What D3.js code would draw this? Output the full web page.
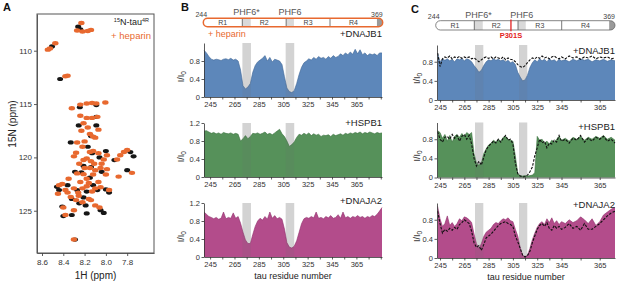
<!DOCTYPE html>
<html>
<head>
<meta charset="utf-8">
<script src="https://cdn.jsdelivr.net/npm/d3@7"></script>
<style>
  body { margin: 0; background: #fff; }
  svg { display: block; }
</style>
</head>
<body>
<svg id="fig" width="617" height="284"></svg>
<script>
// Three-panel figure: HSQC overlay (A), I/I0 profiles +heparin (B), P301S (C).

const FONT = '"Liberation Sans", Arial, Helvetica, sans-serif';
const ORANGE = '#e8692f';
const INK = '#222';
const AXIS = '#333';

// ---- A: peak positions [1H ppm, 15N ppm] ----
const H_TICKS = [8.6, 8.4, 8.2, 8.0, 7.8];
const N_TICKS = [110, 115, 120, 125];
const BLACK_PEAKS = [
  [8.26, 107.75], [8.24, 108.0], [8.506, 109.6], [8.43, 112.65],
  [8.245, 115.3], [8.09, 115.1], [8.09, 116.2], [8.255, 117.0], [8.09, 117.0],
  [8.14, 118.0], [8.33, 118.6], [8.13, 119.6], [8.0, 119.4], [7.77, 119.5],
  [7.74, 119.9], [7.92, 120.25], [8.21, 120.8], [8.04, 121.35], [7.8, 121.2],
  [8.29, 121.35], [8.23, 121.4], [8.46, 122.76], [8.44, 123.06], [8.27, 123.06],
  [8.18, 123.2], [8.08, 123.06], [8.0, 123.0], [7.97, 123.3], [8.32, 123.9],
  [8.21, 123.75], [8.41, 124.6], [8.19, 124.5], [8.05, 124.95], [8.4, 125.5],
  [8.32, 125.4], [8.18, 125.25], [8.02, 125.2], [8.29, 127.7],
  [8.15, 121.9], [8.36, 122.6], [8.12, 122.6], [8.25, 124.3], [8.17, 119.0],
  [8.06, 120.0], [8.14, 120.9]
];
const ORANGE_PEAKS = [
  [8.23, 107.4], [8.27, 108.1], [8.22, 108.2], [8.17, 108.15], [8.14, 108.05],
  [8.475, 109.3], [8.525, 109.8], [8.545, 109.9], [8.38, 112.4], [8.36, 112.35],
  [8.32, 115.4], [8.24, 115.05], [8.18, 114.95], [8.09, 114.95], [8.005, 114.85],
  [8.13, 114.9], [8.24, 116.1], [8.18, 116.3], [8.13, 116.3], [8.08, 116.2],
  [8.21, 116.8], [8.07, 117.4], [8.15, 117.8], [8.12, 118.05], [8.1, 118.15],
  [8.27, 118.6], [8.2, 118.5], [8.22, 119.0], [8.28, 119.57], [8.15, 119.5],
  [8.07, 119.6], [7.99, 119.8], [8.12, 119.4], [7.865, 119.8], [7.8, 119.3],
  [7.83, 119.5], [7.895, 120.2], [8.18, 120.1], [8.21, 120.25], [8.02, 120.2],
  [8.11, 120.6], [8.04, 120.6], [8.14, 120.35], [8.15, 121.0], [8.05, 121.0],
  [7.99, 121.1], [8.1, 121.2], [7.755, 121.45], [7.88, 121.8], [8.27, 121.5],
  [8.21, 121.57], [8.18, 122.0], [8.24, 122.3], [8.41, 122.5], [8.38, 123.06],
  [8.44, 122.6], [8.3, 122.9], [8.22, 122.9], [8.18, 122.7], [8.13, 123.2],
  [8.05, 122.8], [7.97, 123.06], [8.26, 123.3], [8.1, 122.9], [8.33, 123.7],
  [8.255, 123.6], [8.16, 123.9], [8.22, 124.2], [8.4, 124.7], [8.3, 124.95],
  [8.1, 124.5], [8.06, 124.7], [8.38, 125.4], [8.3, 127.7],
  [8.25, 120.6], [8.2, 121.0], [8.12, 121.6], [8.35, 122.0], [8.16, 122.4],
  [8.07, 122.3], [8.28, 124.0], [8.14, 124.0], [8.45, 123.4], [8.36, 123.3],
  [8.0, 121.6], [8.3, 119.9], [8.23, 117.5], [8.17, 117.2]
];

// ---- tau domain schematic ----
const REPEATS = ['R1', 'R2', 'R3', 'R4'];
const REPEAT_BOUNDS = [244, 275, 306, 337, 369];
const PHF_NAMES = ['PHF6*', 'PHF6'];
const PHF_BAR = [[275, 281], [306, 311.5]];
const CAP = [365.5, 369];
const MUTATION = 301;

// ---- B: +heparin, residues 240..386 step 2 ----
const B_RES = d3.range(240, 387, 2);
const B_SHADE = [[271.5, 278.5], [307, 314]];
const B_DNAJB1 = [1.04,0.98,0.9,0.84,0.82,0.84,0.83,0.81,0.84,0.85,
  0.83,0.86,0.82,0.84,0.8,0.6,0.25,0.18,0.22,0.3,
  0.55,0.7,0.78,0.82,0.86,0.92,0.8,0.88,0.78,0.84,
  0.82,0.8,0.72,0.45,0.2,0.12,0.1,0.14,0.3,0.5,
  0.66,0.76,0.8,0.85,0.82,0.88,0.84,0.9,0.86,0.88,
  0.84,0.9,0.86,0.92,0.88,0.9,0.96,0.92,0.98,0.94,
  1.0,0.95,1.06,0.96,1.05,0.94,0.98,0.92,0.96,0.94,
  0.96,0.92,0.98,0.98];
const B_HSPB1 = [1.02,1.03,1.0,0.97,0.99,0.96,0.98,0.95,0.99,0.97,
  0.96,0.98,0.95,0.97,0.95,0.8,0.85,0.92,0.85,0.9,
  0.97,0.96,0.98,0.95,0.97,1.0,0.95,0.97,0.94,0.98,
  1.02,1.06,0.96,0.9,0.8,0.68,0.72,0.78,0.88,0.95,
  0.93,0.97,0.94,0.98,0.92,0.96,0.93,0.95,0.9,0.93,
  0.92,0.94,0.9,0.95,0.92,0.94,0.96,0.93,0.97,0.95,
  0.98,0.96,0.99,0.97,1.0,0.96,0.99,0.97,1.0,0.98,
  0.96,0.99,0.97,0.98];
const B_DNAJA2 = [1.0,0.95,0.9,0.88,0.85,0.88,0.84,0.86,1.0,0.85,
  0.88,0.86,0.98,0.86,0.9,0.75,0.55,0.38,0.3,0.3,
  0.5,0.68,0.8,0.86,0.82,0.9,0.84,1.0,0.86,0.92,
  0.85,0.88,0.84,0.62,0.32,0.22,0.2,0.24,0.36,0.55,
  0.74,0.85,0.88,0.86,0.9,0.87,1.0,0.86,0.88,0.85,
  0.9,0.87,0.92,0.86,0.88,0.94,0.86,1.0,0.87,0.9,
  0.86,0.9,0.88,0.92,0.88,0.9,0.86,0.9,0.88,0.92,
  0.9,0.95,1.02,1.1];

// ---- C: P301S (area) vs dashed reference, residues 243..373 step 2 ----
const C_RES = d3.range(243, 374, 2);
const C_SHADE = [[273.8, 280.6], [310, 316.8]];
const C_DNAJB1 = [0.98,0.8,0.86,0.83,0.86,0.82,0.85,0.8,0.86,0.84,
  0.87,0.82,0.86,0.84,0.8,0.72,0.66,0.58,0.62,0.72,
  0.8,0.84,0.82,0.86,0.83,0.85,0.82,0.84,0.8,0.83,
  0.78,0.8,0.74,0.58,0.48,0.4,0.42,0.52,0.68,0.78,
  0.84,0.8,0.86,0.82,0.85,0.8,0.86,0.82,0.84,0.8,
  0.85,0.82,0.84,0.8,0.85,0.82,0.86,0.83,0.85,0.8,
  0.84,0.82,0.85,0.81,0.84,0.82];
const C_DNAJB1_REF = [0.98,0.7,0.86,0.9,0.88,0.92,0.86,0.9,0.88,0.91,
  0.87,0.9,0.88,0.9,0.86,0.88,0.84,0.8,0.84,0.88,
  0.9,0.87,0.9,0.86,0.9,0.88,0.86,0.9,0.84,0.88,
  0.85,0.84,0.8,0.74,0.7,0.68,0.72,0.78,0.84,0.88,
  0.86,0.9,0.87,0.92,0.88,0.9,0.86,0.9,0.92,0.88,
  0.86,0.9,0.86,0.92,0.88,0.9,0.85,0.9,0.88,0.92,
  0.86,0.9,0.88,0.9,0.86,0.88];
const C_HSPB1 = [0.98,0.94,0.82,0.9,0.76,0.88,0.74,0.86,0.9,0.84,
  0.92,0.86,0.94,0.9,0.94,0.5,0.3,0.26,0.3,0.5,
  0.6,0.68,0.72,0.78,0.74,0.8,0.76,0.84,0.86,0.8,
  0.78,0.76,0.45,0.08,0.04,0.03,0.04,0.03,0.04,0.05,
  0.1,0.86,0.78,0.8,0.72,0.76,0.7,0.78,0.74,0.8,
  0.86,0.78,0.82,0.76,0.84,0.8,0.86,0.78,0.84,0.8,
  0.86,0.82,0.88,0.8,0.84,0.78];
const C_HSPB1_REF = [0.96,0.8,0.74,0.84,0.86,0.8,0.9,0.82,0.88,0.76,
  0.86,0.9,0.8,0.88,0.7,0.4,0.24,0.34,0.26,0.42,
  0.58,0.66,0.7,0.76,0.72,0.8,0.74,0.82,0.88,0.78,
  0.8,0.7,0.3,0.08,0.03,0.01,0.02,0.05,0.12,0.22,
  0.45,0.62,0.8,0.72,0.76,0.62,0.72,0.7,0.78,0.74,
  0.88,0.76,0.8,0.72,0.82,0.78,0.88,0.74,0.82,0.76,
  0.84,0.8,0.86,0.76,0.8,0.72];
const C_DNAJA2 = [1.08,0.82,0.66,0.72,0.88,0.68,0.74,0.66,0.72,0.82,
  0.78,0.86,0.84,0.8,0.74,0.5,0.3,0.2,0.3,0.45,
  0.54,0.58,0.62,0.7,0.74,0.72,0.78,0.82,0.8,0.84,
  0.78,0.76,0.6,0.46,0.22,0.06,0.03,0.06,0.2,0.38,
  0.52,0.64,0.72,0.76,0.7,0.82,0.74,0.84,0.72,0.78,
  0.7,0.76,0.72,0.8,0.74,0.78,0.86,0.8,0.72,0.82,
  0.68,0.76,0.9,0.96,1.02,1.06];
const C_DNAJA2_REF = [0.98,0.72,0.52,0.6,0.56,0.62,0.58,0.64,0.6,0.7,
  0.74,0.8,0.76,0.72,0.56,0.32,0.22,0.26,0.16,0.28,
  0.42,0.46,0.5,0.56,0.62,0.68,0.72,0.74,0.76,0.72,
  0.7,0.66,0.46,0.34,0.2,0.06,0.02,0.05,0.14,0.32,
  0.46,0.6,0.68,0.72,0.66,0.74,0.62,0.58,0.68,0.62,
  0.66,0.6,0.64,0.72,0.62,0.66,0.58,0.72,0.6,0.6,
  0.66,0.72,0.8,0.88,0.94,0.98];

const RES_TICKS_B = d3.range(245, 386, 10);
const RES_TICKS_C = [245, 255, 265, 275, 285, 295, 305, 315, 325, 335, 345, 355, 365];
const RES_LABELS = [245, 265, 285, 305, 325, 345, 365];

const svg = d3.select('#fig').attr('font-family', FONT);

function styleAxis(g, size) {
  g.attr('font-family', FONT);
  g.selectAll('path, line').attr('stroke', AXIS).attr('stroke-width', 0.8);
  g.selectAll('text').attr('fill', AXIS).style('font-size', size);
}

// ================= A =================
const hx = d3.scaleLinear().domain([8.647, 7.548]).range([37, 154]);
const ny = d3.scaleLinear().domain([106.56, 128.96]).range([14, 253]);
const gA = svg.append('g');

gA.append('text').attr('x', 3).attr('y', 11).attr('font-weight', 'bold')
  .style('font-size', '11px').attr('fill', '#111').text('A');

gA.append('g').attr('transform', `translate(0,${ny.range()[1]})`)
  .call(d3.axisBottom(hx).tickValues(H_TICKS).tickFormat(d3.format('.1f')).tickSize(3).tickPadding(3).tickSizeOuter(0))
  .call(g => styleAxis(g, '8px'));
gA.append('g').attr('transform', `translate(${hx.range()[0]},0)`)
  .call(d3.axisLeft(ny).tickValues(N_TICKS).tickSize(3).tickPadding(2).tickSizeOuter(0))
  .call(g => styleAxis(g, '8px'));

gA.selectAll('ellipse.blk').data(BLACK_PEAKS).join('ellipse')
  .attr('cx', d => hx(d[0])).attr('cy', d => ny(d[1]))
  .attr('rx', 3).attr('ry', 2.1).attr('fill', '#161616');
gA.selectAll('ellipse.org').data(ORANGE_PEAKS).join('ellipse')
  .attr('cx', d => hx(d[0])).attr('cy', d => ny(d[1]))
  .attr('rx', 3.2).attr('ry', 2.2).attr('fill', ORANGE);

gA.append('rect')
  .attr('x', hx.range()[0]).attr('y', ny.range()[0])
  .attr('width', hx.range()[1] - hx.range()[0]).attr('height', ny.range()[1] - ny.range()[0])
  .attr('fill', 'none').attr('stroke', '#555').attr('stroke-width', 1);

const leg = gA.append('text').attr('x', 149).attr('y', 25).attr('text-anchor', 'end')
  .attr('fill', INK).style('font-size', '9px');
leg.append('tspan').style('font-size', '5.5px').attr('dy', -3).text('15');
leg.append('tspan').attr('dy', 3).text('N-tau');
leg.append('tspan').style('font-size', '5.5px').attr('dy', -3).text('4R');
gA.append('text').attr('x', 151).attr('y', 39).attr('text-anchor', 'end')
  .attr('fill', ORANGE).style('font-size', '9.5px').text('+ heparin');

gA.append('text').attr('x', d3.mean(hx.range())).attr('y', 279).attr('text-anchor', 'middle')
  .attr('fill', INK).style('font-size', '10px').text('1H (ppm)');
gA.append('text').attr('transform', `translate(16,124) rotate(-90)`).attr('text-anchor', 'middle')
  .attr('fill', INK).style('font-size', '10px').text('15N (ppm)');

// ================= domain bar =================
function domainBar(g, bx, top, h, outline, outlineW, labelY) {
  const x0 = bx(REPEAT_BOUNDS[0]);
  const x1 = bx(REPEAT_BOUNDS[REPEAT_BOUNDS.length - 1]);
  const id = 'clip' + Math.round(x0);
  g.append('clipPath').attr('id', id).append('rect')
    .attr('x', x0).attr('y', top).attr('width', x1 - x0).attr('height', h).attr('rx', h / 2);
  g.append('rect').attr('x', x0).attr('y', top).attr('width', x1 - x0).attr('height', h)
    .attr('rx', h / 2).attr('fill', '#fff');
  g.selectAll('rect.phf').data(PHF_BAR).join('rect')
    .attr('x', d => bx(d[0])).attr('width', d => bx(d[1]) - bx(d[0]))
    .attr('y', top).attr('height', h).attr('fill', '#d9d9d9');
  g.append('rect').attr('clip-path', `url(#${id})`)
    .attr('x', bx(CAP[0])).attr('width', bx(CAP[1]) - bx(CAP[0]))
    .attr('y', top).attr('height', h).attr('fill', '#9a9a9a');
  g.selectAll('line.rep').data(REPEAT_BOUNDS.slice(1, -1)).join('line')
    .attr('x1', d => bx(d)).attr('x2', d => bx(d)).attr('y1', top).attr('y2', top + h)
    .attr('stroke', '#555').attr('stroke-width', 0.8);
  g.append('rect').attr('x', x0).attr('y', top).attr('width', x1 - x0).attr('height', h)
    .attr('rx', h / 2).attr('fill', 'none').attr('stroke', outline).attr('stroke-width', outlineW);
  g.selectAll('text.rep').data(REPEATS).join('text')
    .attr('x', (d, i) => (bx(REPEAT_BOUNDS[i]) + bx(i === 3 ? CAP[0] : REPEAT_BOUNDS[i + 1])) / 2)
    .attr('y', top + h / 2 + 2.5).attr('text-anchor', 'middle')
    .attr('fill', '#444').style('font-size', '7px').text(d => d);
  g.selectAll('text.phf').data(PHF_NAMES).join('text')
    .attr('x', (d, i) => (bx(PHF_BAR[i][0]) + bx(PHF_BAR[i][1])) / 2)
    .attr('y', labelY).attr('text-anchor', 'middle')
    .attr('fill', '#555').style('font-size', '9px').text(d => d);
  g.append('text').attr('x', x0 - 2).attr('y', top - 1.5).attr('text-anchor', 'middle')
    .attr('fill', '#444').style('font-size', '7px').text(REPEAT_BOUNDS[0]);
  g.append('text').attr('x', x1).attr('y', top - 1.5).attr('text-anchor', 'end')
    .attr('fill', '#444').style('font-size', '7px').text(REPEAT_BOUNDS[REPEAT_BOUNDS.length - 1]);
}

// ================= profile panel =================
function profile(g, o) {
  const x = o.x;
  const xr = x.range();
  const y = d3.scaleLinear().domain([0, o.ymax]).range([o.y0, o.y0 - o.h]);
  const top = y(o.ymax), bot = y(0);
  const pts = o.res.map((r, i) => ({ r, v: o.vals[i] }));

  g.selectAll('rect.sb').data(o.shade).join('rect')
    .attr('x', d => x(d[0])).attr('width', d => x(d[1]) - x(d[0]))
    .attr('y', top).attr('height', bot - top).attr('fill', '#e3e3e3');
  g.append('path').datum(pts)
    .attr('d', d3.area().x(d => x(d.r)).y0(bot).y1(d => y(d.v)))
    .attr('fill', o.fill);
  g.append('path').datum(pts)
    .attr('d', d3.line().x(d => x(d.r)).y(d => y(d.v)))
    .attr('fill', 'none').attr('stroke', o.stroke).attr('stroke-width', 0.6);
  g.selectAll('rect.so').data(o.shade).join('rect')
    .attr('x', d => x(d[0])).attr('width', d => x(d[1]) - x(d[0]))
    .attr('y', top).attr('height', bot - top).attr('fill', '#6f6f6f').attr('opacity', 0.13);

  if (o.ref) {
    const rp = o.res.map((r, i) => ({ r, v: o.ref[i] }));
    g.append('path').datum(rp)
      .attr('d', d3.line().x(d => x(d.r)).y(d => y(d.v)))
      .attr('fill', 'none').attr('stroke', '#111').attr('stroke-width', 1.1)
      .attr('stroke-dasharray', '2.6,1.4');
  }

  g.append('g').attr('transform', `translate(0,${bot})`)
    .call(d3.axisBottom(x).tickValues(o.ticks)
      .tickFormat(d => RES_LABELS.includes(d) ? d : '')
      .tickSize(2.5).tickPadding(2.5).tickSizeOuter(0))
    .call(a => styleAxis(a, '7.5px'));
  g.append('g').attr('transform', `translate(${xr[0]},0)`)
    .call(d3.axisLeft(y).tickValues(o.yticks)
      .tickFormat(d => d === 0 ? '0' : d3.format('.1f')(d))
      .tickSize(2.5).tickPadding(1.5).tickSizeOuter(0))
    .call(a => styleAxis(a, '7.5px'));

  const yl = g.append('text').attr('transform', `translate(${o.ylx},${y(0.45)}) rotate(-90)`)
    .attr('text-anchor', 'middle').attr('fill', INK).style('font-size', '9px');
  yl.append('tspan').text('I/I');
  yl.append('tspan').attr('dy', 2).style('font-size', '6.5px').text('0');

  g.append('text').attr('x', xr[xr.length - 1]).attr('y', o.labelY).attr('text-anchor', 'end')
    .attr('fill', INK).style('font-size', '9.5px').text(o.label);
}

// ================= B =================
const xB = d3.scaleLinear().domain([240, 386]).range([204, 382]);
const barB = d3.scaleLinear().domain([244, 275, 337, 369]).range([203.3, 242.3, 330, 382.7]);
const gB = svg.append('g');
gB.append('text').attr('x', 181).attr('y', 11).attr('font-weight', 'bold')
  .style('font-size', '11px').attr('fill', '#111').text('B');
domainBar(gB, barB, 18.3, 8.4, ORANGE, 1.5, 14.8);
gB.append('text').attr('x', 208).attr('y', 37).attr('fill', ORANGE)
  .style('font-size', '9px').text('+ heparin');

const B_PANELS = [
  { vals: B_DNAJB1, label: '+DNAJB1', fill: '#5d87ba', stroke: '#3f6796', y0: 97, labelY: 37, yticks: [0, 0.4, 0.8] },
  { vals: B_HSPB1, label: '+HSPB1', fill: '#56915a', stroke: '#3a713e', y0: 177, labelY: 125.5, yticks: [0, 0.4, 0.8, 1.2] },
  { vals: B_DNAJA2, label: '+DNAJA2', fill: '#b34c8b', stroke: '#8e2f6b', y0: 257, labelY: 204, yticks: [0, 0.4, 0.8, 1.2] }
];
B_PANELS.forEach(p => profile(gB.append('g'), Object.assign({
  x: xB, res: B_RES, shade: B_SHADE, ymax: 1.2, h: 54, ticks: RES_TICKS_B, ylx: 184
}, p)));
gB.append('text').attr('x', d3.mean(xB.range())).attr('y', 278.5).attr('text-anchor', 'middle')
  .attr('fill', INK).style('font-size', '9px').text('tau residue number');

// ================= C =================
const xC = d3.scaleLinear().domain([242.5, 345, 373]).range([437, 561.5, 615]);
const barC = d3.scaleLinear().domain([244, 275, 337, 369]).range([435.7, 474.3, 561.7, 615]);
const gC = svg.append('g');
gC.append('text').attr('x', 411).attr('y', 13).attr('font-weight', 'bold')
  .style('font-size', '11px').attr('fill', '#111').text('C');
domainBar(gC, barC, 20.7, 9.3, '#666', 0.8, 18.3);
gC.append('line').attr('x1', barC(MUTATION)).attr('x2', barC(MUTATION))
  .attr('y1', 19.5).attr('y2', 31.2).attr('stroke', '#e32222').attr('stroke-width', 1.3);
gC.append('text').attr('x', barC(MUTATION)).attr('y', 38).attr('text-anchor', 'middle')
  .attr('fill', '#e32222').attr('font-weight', 'bold').style('font-size', '7.5px').text('P301S');

const C_PANELS = [
  { vals: C_DNAJB1, ref: C_DNAJB1_REF, label: '+DNAJB1', fill: '#5d87ba', stroke: '#3f6796', y0: 100, labelY: 54 },
  { vals: C_HSPB1, ref: C_HSPB1_REF, label: '+HSPB1', fill: '#56915a', stroke: '#3a713e', y0: 177.5, labelY: 129.5 },
  { vals: C_DNAJA2, ref: C_DNAJA2_REF, label: '+DNAJA2', fill: '#b34c8b', stroke: '#8e2f6b', y0: 258, labelY: 207.5 }
];
C_PANELS.forEach(p => profile(gC.append('g'), Object.assign({
  x: xC, res: C_RES, shade: C_SHADE, ymax: 1.15, h: 55, ticks: RES_TICKS_C, yticks: [0, 0.4, 0.8], ylx: 420
}, p)));
gC.append('text').attr('x', d3.mean([xC.range()[0], xC.range()[2]])).attr('y', 280).attr('text-anchor', 'middle')
  .attr('fill', INK).style('font-size', '9px').text('tau residue number');
</script>
</body>
</html>
